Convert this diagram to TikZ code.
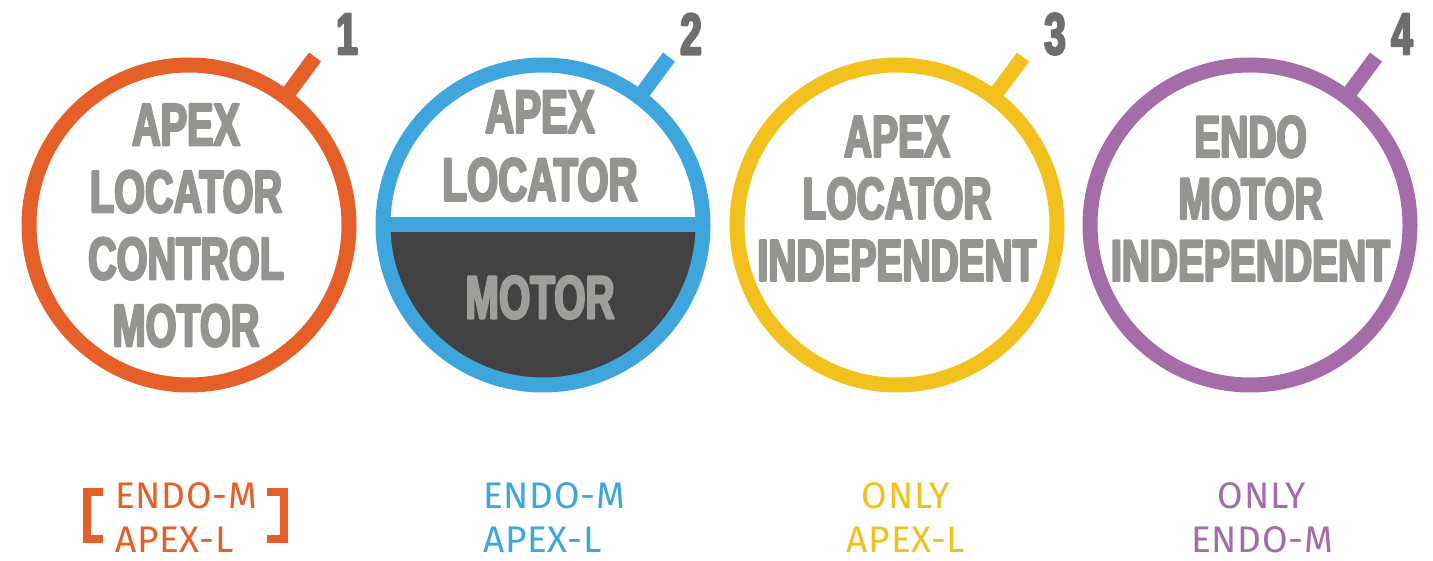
\documentclass[tikz,border=0pt]{standalone}
\usepackage{fontspec}
\setmainfont{Liberation Sans}
\newfontfamily\condfont[FakeStretch=0.66]{Liberation Sans}
\newfontfamily\labfont[LetterSpace=2]{Fira Sans}
\newcommand\heavyon{\special{pdf:literal direct 2 Tr 2.2 w 1 j}}
\newcommand\heavyoff{\special{pdf:literal direct 0 Tr}}
\definecolor{corange}{RGB}{228,96,40}
\definecolor{cblue}{RGB}{62,166,220}
\definecolor{cyellow}{RGB}{242,193,30}
\definecolor{cpurple}{RGB}{165,108,170}
\definecolor{txtgray}{RGB}{148,148,144}
\definecolor{lightgray}{RGB}{158,158,154}
\definecolor{numgray}{RGB}{110,110,110}
\definecolor{darkfill}{RGB}{66,66,66}
\begin{document}
\begin{tikzpicture}[x=1pt,y=1pt,
  ring/.style={circle, draw=#1, line width=15pt, minimum size=320pt, inner sep=0pt, outer sep=0pt},
  handle/.style={draw=#1, line width=15pt, line cap=butt},
  circtext/.style={font=\condfont\bfseries\fontsize{60}{67}\selectfont, text=txtgray, align=center, inner sep=0pt},
  numtext/.style={font=\condfont\bfseries\fontsize{59}{60}\selectfont, text=numgray, inner sep=0pt},
  labtext/.style={font=\labfont\fontsize{37}{44}\selectfont, text=#1, inner sep=0pt}]
\useasboundingbox (0,0) rectangle (1433,560);
% circle 2 dark half
\fill[darkfill] (383,335) arc[start angle=180, end angle=360, radius=160pt] -- cycle;
% rings
\node[ring=corange] (c1) at (189,335) {};
\node[ring=cblue] (c2) at (543,335) {};
\node[ring=cyellow] (c3) at (897,335) {};
\node[ring=cpurple] (c4) at (1250,335) {};
\draw[handle=corange] (c1.53.5) -- ++(53.5:50);
\draw[handle=cblue] (c2.53.5) -- ++(53.5:50);
\draw[handle=cyellow] (c3.53.5) -- ++(53.5:50);
\draw[handle=cpurple] (c4.53.5) -- ++(53.5:50);
\draw[draw=cblue, line width=15pt] (c2.west) -- (c2.east);
% numbers
\node[numtext] (n1) at (347,526) {\heavyon 1\heavyoff};
\node[numtext] (n2) at (691,526) {\heavyon 2\heavyoff};
\node[numtext] (n3) at (1055,526) {\heavyon 3\heavyoff};
\node[numtext] (n4) at (1402,526) {\heavyon 4\heavyoff};
% circle texts
\node[circtext] (t1) at (186,334.5) {\heavyon APEX\\LOCATOR\\CONTROL\\MOTOR\heavyoff};
\node[circtext, font=\condfont\bfseries\fontsize{61}{68}\selectfont] (t2a) at (540,414) {\heavyon APEX\\LOCATOR\heavyoff};
\node[circtext, text=lightgray, font=\condfont\bfseries\fontsize{61}{68}\selectfont] (t2b) at (540,262.5) {\heavyon MOTOR\heavyoff};
\node[circtext, font=\condfont\bfseries\fontsize{59}{62}\selectfont] (t3) at (897,361.5) {\heavyon APEX\\LOCATOR\\INDEPENDENT\heavyoff};
\node[circtext, font=\condfont\bfseries\fontsize{59}{62}\selectfont] (t4) at (1250.5,361.5) {\heavyon ENDO\\MOTOR\\INDEPENDENT\heavyoff};
% bottom labels
\node[labtext=corange, align=left, anchor=north west] (l1) at (115,78) {ENDO-M\\APEX-L};
\node[labtext=cblue, align=left, anchor=north west] (l2) at (483,78) {ENDO-M\\APEX-L};
\node[labtext=cyellow, align=center, anchor=north] (l3) at (906,78) {ONLY\\APEX-L};
\node[labtext=cpurple, align=center, anchor=north] (l4) at (1262,78) {ONLY\\ENDO-M};
% brackets
\draw[corange, line width=8pt, line join=miter] (103,68) -- (87,68) -- (87,21) -- (103,21);
\draw[corange, line width=8pt, line join=miter] (267,68) -- (284,68) -- (284,21) -- (267,21);
\end{tikzpicture}
\end{document}
